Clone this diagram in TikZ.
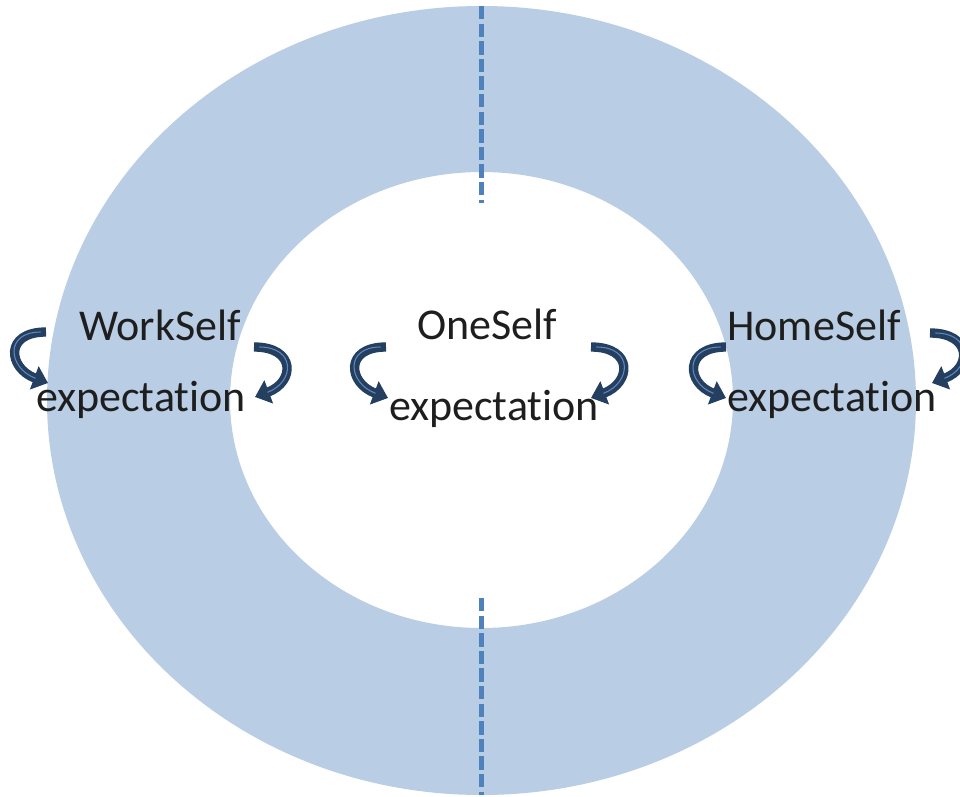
\documentclass[tikz,border=0pt]{standalone}
\usepackage{fontspec}
\setmainfont{Carlito}[RawFeature={-liga;-clig;-calt;-dlig}]
\usetikzlibrary{arrows.meta}

\definecolor{ringfill}{RGB}{185,205,229}
\definecolor{splitline}{RGB}{79,129,189}
\definecolor{curldark}{RGB}{36,63,96}
\definecolor{curllight}{RGB}{96,136,186}

\tikzset{
  label/.style={anchor=base,inner sep=0.75pt,font=\fontsize{33}{40}\selectfont,text={rgb,255:red,30;green,30;blue,30}},
  split/.style={splitline,line width=3.2pt,dash pattern=on 10pt off 3.2pt},
  curl/.style={curldark,line width=7pt,-{Triangle[width=18pt,length=11pt]}},
  curlhi/.style={curllight,line width=0.8pt,shorten >=10pt,shorten <=4pt},
}

\begin{document}
\begin{tikzpicture}[x=0.75pt,y=0.75pt,yscale=-1,xscale=1]
        \useasboundingbox (0,0) rectangle (960,796);

        % Ring
        \fill [ringfill, even odd rule] (481.5,400.5) ellipse [x radius=434.5, y radius=394.5]
                                        (481.5,400) ellipse [x radius=251.5, y radius=228];
        % Split lines
        \draw [split] (481.5,6) -- (481.5,203) ;
        \draw [split] (481.5,598) -- (481.5,795) ;

        % Text Nodes
        \node [label] (work) at (160,340) {WorkSelf};
        \node [label] (workexp) at (141,411) {expectation};
        \node [label] (one) at (487,339) {OneSelf};
        \node [label] (oneexp) at (494,420) {expectation};
        \node [label] (home) at (814,340) {HomeSelf};
        \node [label] (homeexp) at (832,411) {expectation};

        % Curl ends
        \coordinate (wl-s) at (46,332);   \coordinate (wl-e) at (48,383);
        \coordinate (wr-s) at (254,347);  \coordinate (wr-e) at (255,397);
        \coordinate (ol-s) at (386,347);  \coordinate (ol-e) at (388,398);
        \coordinate (or-s) at (591,347);  \coordinate (or-e) at (591,398);
        \coordinate (hl-s) at (726,347);  \coordinate (hl-e) at (726,398);
        \coordinate (hr-s) at (930,333);  \coordinate (hr-e) at (932,383);

        % Curls to the left side
        \draw [curl] (wl-s) .. controls (4,332) and (8,368) .. (wl-e) ;
        \draw [curlhi] (wl-s) .. controls (4,332) and (8,368) .. (wl-e) ;
        \draw [curl] (ol-s) .. controls (344,347) and (348,383) .. (ol-e) ;
        \draw [curlhi] (ol-s) .. controls (344,347) and (348,383) .. (ol-e) ;
        \draw [curl] (hl-s) .. controls (684,347) and (686,383) .. (hl-e) ;
        \draw [curlhi] (hl-s) .. controls (684,347) and (686,383) .. (hl-e) ;
        % Curls to the right side
        \draw [curl] (wr-s) .. controls (296,347) and (295,382) .. (wr-e) ;
        \draw [curlhi] (wr-s) .. controls (296,347) and (295,382) .. (wr-e) ;
        \draw [curl] (or-s) .. controls (634,347) and (631,383) .. (or-e) ;
        \draw [curlhi] (or-s) .. controls (634,347) and (631,383) .. (or-e) ;
        \draw [curl] (hr-s) .. controls (972,333) and (972,368) .. (hr-e) ;
        \draw [curlhi] (hr-s) .. controls (972,333) and (972,368) .. (hr-e) ;

\end{tikzpicture}
\end{document}
